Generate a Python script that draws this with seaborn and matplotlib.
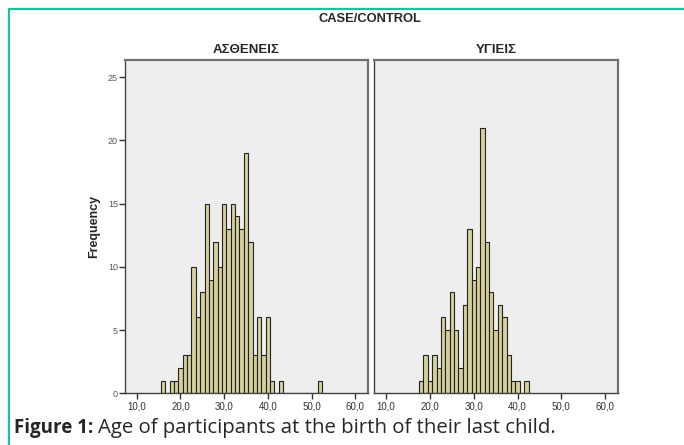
import numpy as np
import pandas as pd
import seaborn as sns
import matplotlib.pyplot as plt
from matplotlib.lines import Line2D
from matplotlib.ticker import FuncFormatter

# Age at birth of last child (integer years) and counts
case_ages = [16, 18, 19, 20, 21, 22, 23, 24, 25, 26, 27, 28, 29, 30, 31, 32, 33,
             34, 35, 36, 37, 38, 39, 40, 41, 43, 52]
case_counts = [1, 1, 1, 2, 3, 3, 10, 6, 8, 15, 9, 12, 10, 15, 13, 15, 14,
               13, 19, 12, 3, 6, 3, 6, 1, 1, 1]

control_ages = [18, 19, 20, 21, 22, 23, 24, 25, 26, 27, 28, 29, 30, 31, 32, 33,
                34, 35, 36, 37, 38, 39, 40, 42]
control_counts = [1, 3, 1, 3, 2, 6, 5, 8, 5, 2, 7, 13, 9, 10, 21, 12,
                  8, 5, 7, 6, 3, 1, 1, 1]

groups = ["ΑΣΘΕΝΕΙΣ", "ΥΓΙΕΙΣ"]
x_ticks = [10, 20, 30, 40, 50, 60]
y_ticks = [0, 5, 10, 15, 20, 25]

df = pd.concat([
    pd.DataFrame({"age": case_ages, "count": case_counts, "group": groups[0]}),
    pd.DataFrame({"age": control_ages, "count": control_counts, "group": groups[1]}),
])

sns.set_style("white")
plt.rcParams["font.family"] = ["Liberation Sans", "DejaVu Sans"]

W, H = 684, 445
fig = plt.figure(figsize=(W / 100, H / 100), dpi=100)
fig.patch.set_facecolor("white")

# teal frame around the figure (left and top)
teal = "#1dbf9f"
fig.add_artist(Line2D([8.5 / W, 8.5 / W], [0, 1 - 8.5 / H], color=teal, lw=1.6))
fig.add_artist(Line2D([8.5 / W, 1], [1 - 8.5 / H, 1 - 8.5 / H], color=teal, lw=1.6))

top, bottom = 59.5, 393.3
panels = [(125, 367.7), (374.3, 617.7)]
fmt = FuncFormatter(lambda v, p: f"{v:.1f}".replace(".", ","))

for i, (grp, (x0, x1)) in enumerate(zip(groups, panels)):
    ax = fig.add_axes([x0 / W, 1 - bottom / H, (x1 - x0) / W, (bottom - top) / H])
    ax.set_facecolor("#eeeeee")
    sub = df[df["group"] == grp]
    sns.histplot(data=sub, x="age", weights="count", discrete=True, ax=ax,
                 color="#d5cf9c", edgecolor="#222222", linewidth=0.8, alpha=1)
    ax.set_xlim(7.3, 62.85)
    ax.set_ylim(0, 26.4)
    ax.set_xticks(x_ticks)
    ax.xaxis.set_major_formatter(fmt)
    ax.tick_params(axis="x", direction="out", length=4, width=1, color="#333333",
                   labelsize=7, labelcolor="#333333", pad=2, bottom=True)
    if i == 0:
        ax.set_yticks(y_ticks)
        ax.tick_params(axis="y", direction="out", length=4, width=1, color="#333333",
                       labelsize=6.5, labelcolor="#555555", pad=1, left=True)
        ax.set_ylabel("Frequency", fontsize=9, fontweight="bold", labelpad=6)
    else:
        ax.set_yticks([])
        ax.set_ylabel("")
    ax.set_xlabel("")
    for side in ["left", "bottom"]:
        ax.spines[side].set_color("#444444")
        ax.spines[side].set_linewidth(1.0)
    for side in ["top", "right"]:
        ax.spines[side].set_color("#707070")
        ax.spines[side].set_linewidth(1.6)
    ax.set_title(grp, fontsize=9.5, fontweight="bold", pad=5)

fig.text(370 / W, 1 - 19 / H, "CASE/CONTROL", ha="center", va="center",
         fontsize=9.3, fontweight="bold")

fig.text(14 / W, 1 - 433 / H, "Figure 1:", ha="left", va="baseline",
         fontsize=13.5, fontweight="bold", family=["Open Sans", "DejaVu Sans"])
fig.text(98 / W, 1 - 433 / H, "Age of participants at the birth of their last child.",
         ha="left", va="baseline", fontsize=14.7, family=["Open Sans", "DejaVu Sans"])

fig.savefig("out.png", dpi=100)
